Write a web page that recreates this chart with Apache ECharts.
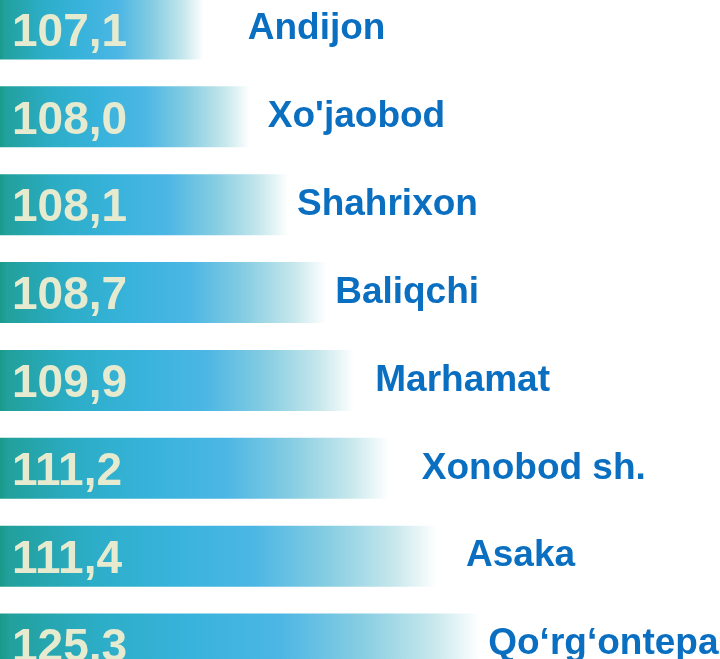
<!DOCTYPE html>
<html>
<head>
<meta charset="utf-8">
<title>Tumanlar</title>
<script src="https://cdn.jsdelivr.net/npm/echarts@6/dist/echarts.min.js"></script>
<style>
  html, body { margin: 0; padding: 0; background: #fff; }
  #chart { width: 720px; height: 659px; }
</style>
</head>
<body>
<div id="chart"></div>
<script>
// ma'lumotlar
const districts = ["Andijon", "Xo'jaobod", "Shahrixon", "Baliqchi", "Marhamat", "Xonobod sh.", "Asaka", "Qo‘rg‘ontepa"];
const values = [107.1, 108.0, 108.1, 108.7, 109.9, 111.2, 111.4, 125.3];
// bar length as drawn in the picture (% of width), not proportional to the value
const barLength = [28.3, 34.7, 40.0, 45.3, 49.2, 54.0, 60.7, 66.7];

// label gap after each bar end, px
const nameGap = [44, 18, 9, 9, 21, 33, 29, 8];

const chart = echarts.init(document.getElementById("chart"));

const barColor = new echarts.graphic.LinearGradient(0, 0, 1, 0, [
  { offset: 0, color: "#199a88" },
  { offset: 0.02, color: "#21a09c" },
  { offset: 0.2, color: "#2cadc6" },
  { offset: 0.4, color: "#38b3dc" },
  { offset: 0.58, color: "#4cb6e4" },
  { offset: 0.75, color: "#86cde2" },
  { offset: 0.9, color: "#c6e7ec" },
  { offset: 1, color: "#ffffff" },
]);

const option = {
  animation: false,
  grid: { left: 0, right: 0, top: -15, bottom: -29, outerBoundsMode: "none" },
  xAxis: { type: "value", min: 0, max: 100, show: false },
  yAxis: {
    type: "category",
    data: districts,
    inverse: true,
    show: false,
  },
  series: [
    {
      type: "bar",
      barWidth: 61,
      data: barLength,
      itemStyle: { color: barColor },
      label: {
        show: true,
        position: "insideLeft",
        distance: 12,
        offset: [0, 4],
        color: "#e6ebcf",
        fontFamily: "Liberation Sans, Arial",
        fontWeight: "bold",
        fontSize: 46,
        formatter: (p) => values[p.dataIndex].toFixed(1).replace(".", ","),
      },
    },
    {
      type: "bar",
      barWidth: 61,
      barGap: "-100%",
      silent: true,
      data: barLength.map((v, i) => ({
        value: v,
        label: { distance: nameGap[i] },
      })),
      itemStyle: { color: "rgba(0,0,0,0)" },
      label: {
        show: true,
        position: "right",
        color: "#0a6fc0",
        fontFamily: "Liberation Sans, Arial",
        fontWeight: "bold",
        fontSize: 37,
        formatter: (p) => districts[p.dataIndex],
      },
    },
  ],
};

chart.setOption(option);
</script>
</body>
</html>
